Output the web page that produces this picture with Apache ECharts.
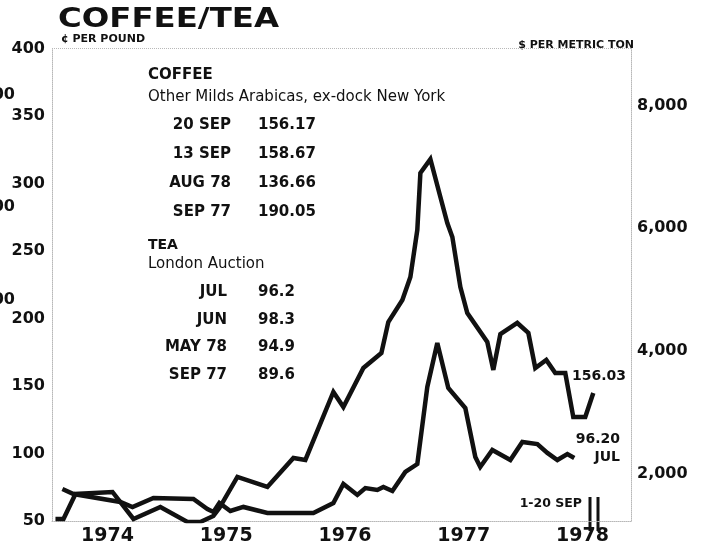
<!DOCTYPE html>
<html>
<head>
<meta charset="utf-8">
<script src="https://cdn.jsdelivr.net/npm/echarts@6/dist/echarts.min.js"></script>
<style>
  html, body { margin: 0; background: #fff; }
  #chart { width: 706px; height: 546px; }
</style>
</head>
<body>
<div id="chart"></div>
<script>
// months counted from the start of Jan 1974, prices in cents per pound
const coffeeMonths = [0.75, 1.56, 2.77, 6.51, 8.63, 11.35, 14.08, 15.39, 16.7, 17.31, 19.13, 22.16, 24.79, 26.0,
  28.83, 29.84, 31.86, 33.68, 34.38, 35.8, 36.61, 37.31, 37.62, 38.63, 39.64, 40.34, 40.85, 41.66, 42.36,
  44.38, 44.99, 45.7, 47.41, 48.53, 49.23, 50.34, 51.25, 52.26, 53.07, 54.28, 55.09];
const coffeeCents = [51.5, 51.5, 70.0, 71.5, 51.5, 60.4, 49.3, 49.3, 53.7, 59.6, 82.6, 75.2, 96.7, 95.2,
  145.6, 134.4, 163.3, 174.4, 197.4, 213.7, 230.7, 265.6, 307.8, 318.1, 290.0, 270.7, 260.4, 223.3, 204.1,
  182.6, 161.9, 188.5, 196.7, 189.3, 163.3, 169.3, 159.6, 159.6, 127.0, 127.0, 144.8];

const teaMonths = [1.45, 2.57, 7.31, 8.53, 10.65, 14.69, 16.1, 16.71, 17.31, 18.42, 19.74, 22.16, 26.81,
  28.83, 29.84, 31.25, 32.06, 33.27, 33.88, 34.79, 36.1, 37.31, 38.32, 39.33, 40.44, 42.16, 43.17, 43.67,
  44.89, 46.71, 47.92, 49.44, 50.45, 51.46, 52.47, 53.17];
const teaCents = [73.7, 70.0, 64.1, 60.4, 67.0, 66.3, 58.9, 56.7, 63.3, 57.4, 60.4, 55.9, 55.9,
  63.3, 77.4, 69.3, 74.4, 73.0, 75.2, 72.2, 86.3, 92.2, 149.3, 181.9, 148.5, 133.7, 97.4, 90.0,
  102.6, 95.2, 108.5, 107.0, 100.4, 95.2, 99.6, 96.7];

const yearLabels = ['1974', '1975', '1976', '1977', '1978'];
const yearTickMonths = [6, 18, 30, 42, 54];
const centTicks = { min: 50, max: 400, step: 50 };
const tonTicks = [2000, 4000, 6000, 8000];

const coffeeRows = [['20 SEP', '156.17'], ['13 SEP', '158.67'], ['AUG 78', '136.66'], ['SEP 77', '190.05']];
const teaRows = [['JUL', '96.2'], ['JUN', '98.3'], ['MAY 78', '94.9'], ['SEP 77', '89.6']];

const INK = '#111';
const DOTS = '#b8b8b8';
const FONT = '"DejaVu Sans", sans-serif';

function txt(text, x, y, font, align, extra) {
  return Object.assign({
    type: 'text', x: x, y: y, silent: true,
    style: { text: text, font: font, fill: INK, textAlign: align || 'left', textVerticalAlign: 'middle' },
  }, extra || {});
}

const graphics = [
  txt('COFFEE/TEA', 58, 20, 'bold 27px ' + FONT, 'left', { scaleX: 1.2 }),
  txt('¢ PER POUND', 61, 39, 'bold 11px ' + FONT),
  txt('$ PER METRIC TON', 634, 45, 'bold 11px ' + FONT, 'right'),
  txt('COFFEE', 148, 75, 'bold 15px ' + FONT),
  txt('Other Milds Arabicas, ex-dock New York', 148, 97, '15px ' + FONT),
  txt('TEA', 148, 245, 'bold 14px ' + FONT),
  txt('London Auction', 148, 264, '15px ' + FONT),
  txt('156.03', 572, 376, 'bold 14px ' + FONT),
  txt('96.20', 620, 439, 'bold 14px ' + FONT, 'right'),
  txt('JUL', 620, 457, 'bold 14px ' + FONT, 'right'),
  txt('1-20 SEP', 582, 504, 'bold 12.5px ' + FONT, 'right'),
  // clipped labels of the neighbouring chart at the far left
  txt('500', 15, 95, 'bold 16px ' + FONT, 'right'),
  txt('400', 15, 207, 'bold 16px ' + FONT, 'right'),
  txt('300', 15, 300, 'bold 16px ' + FONT, 'right'),
  { type: 'line', silent: true, shape: { x1: 590, y1: 497, x2: 590, y2: 531 }, style: { stroke: INK, lineWidth: 3 } },
  { type: 'line', silent: true, shape: { x1: 598, y1: 497, x2: 598, y2: 531 }, style: { stroke: INK, lineWidth: 3 } },
];
coffeeRows.forEach(function (r, i) {
  const y = 125 + i * 29;
  graphics.push(txt(r[0], 231, y, 'bold 15px ' + FONT, 'right'));
  graphics.push(txt(r[1], 258, y, 'bold 15px ' + FONT));
});
teaRows.forEach(function (r, i) {
  const y = 292 + i * 27.7;
  graphics.push(txt(r[0], 227, y, 'bold 15px ' + FONT, 'right'));
  graphics.push(txt(r[1], 258, y, 'bold 15px ' + FONT));
});

const chart = echarts.init(document.getElementById('chart'), null, { renderer: 'canvas' });

const lineStyle = { color: INK, width: 4.5, join: 'miter', miterLimit: 4 };

chart.setOption({
  animation: false,
  backgroundColor: '#fff',
  grid: { left: 52, right: 75, top: 48.5, bottom: 25, containLabel: false, outerBoundsMode: 'none' },
  xAxis: {
    type: 'value', min: 0.4, max: 58.9,
    axisLine: { show: true, lineStyle: { color: DOTS, type: 'dotted', width: 1 } },
    axisTick: { show: false },
    splitLine: { show: false },
    axisLabel: {
      customValues: yearTickMonths,
      formatter: function (v) { return yearLabels[yearTickMonths.indexOf(v)]; },
      fontFamily: FONT, fontWeight: 'bold', fontSize: 19, color: INK, margin: 6,
    },
  },
  yAxis: [
    {
      type: 'value', position: 'left', min: centTicks.min, max: centTicks.max, interval: centTicks.step,
      axisLine: { show: true, lineStyle: { color: DOTS, type: 'dotted', width: 1 } },
      axisTick: { show: false },
      splitLine: { show: false },
      axisLabel: { fontFamily: FONT, fontWeight: 'bold', fontSize: 16, color: INK, margin: 7 },
    },
    {
      type: 'value', position: 'right', min: 1225, max: 8930,
      axisLine: { show: true, lineStyle: { color: DOTS, type: 'dotted', width: 1 } },
      axisTick: { show: false },
      splitLine: { show: false },
      axisLabel: {
        customValues: tonTicks,
        formatter: function (v) { return v.toLocaleString('en-US'); },
        fontFamily: FONT, fontWeight: 'bold', fontSize: 16, color: INK, margin: 6,
      },
    },
  ],
  series: [
    {
      name: 'Coffee', type: 'line', yAxisIndex: 0, symbol: 'none',
      data: coffeeMonths.map(function (m, i) { return [m, coffeeCents[i]]; }),
      lineStyle: lineStyle,
      markLine: {
        silent: true, symbol: 'none', label: { show: false },
        lineStyle: { color: DOTS, type: 'dotted', width: 1 },
        data: [{ yAxis: centTicks.max }],
      },
    },
    {
      name: 'Tea', type: 'line', yAxisIndex: 0, symbol: 'none',
      data: teaMonths.map(function (m, i) { return [m, teaCents[i]]; }),
      lineStyle: lineStyle,
    },
  ],
  graphic: graphics,
});
</script>
</body>
</html>
